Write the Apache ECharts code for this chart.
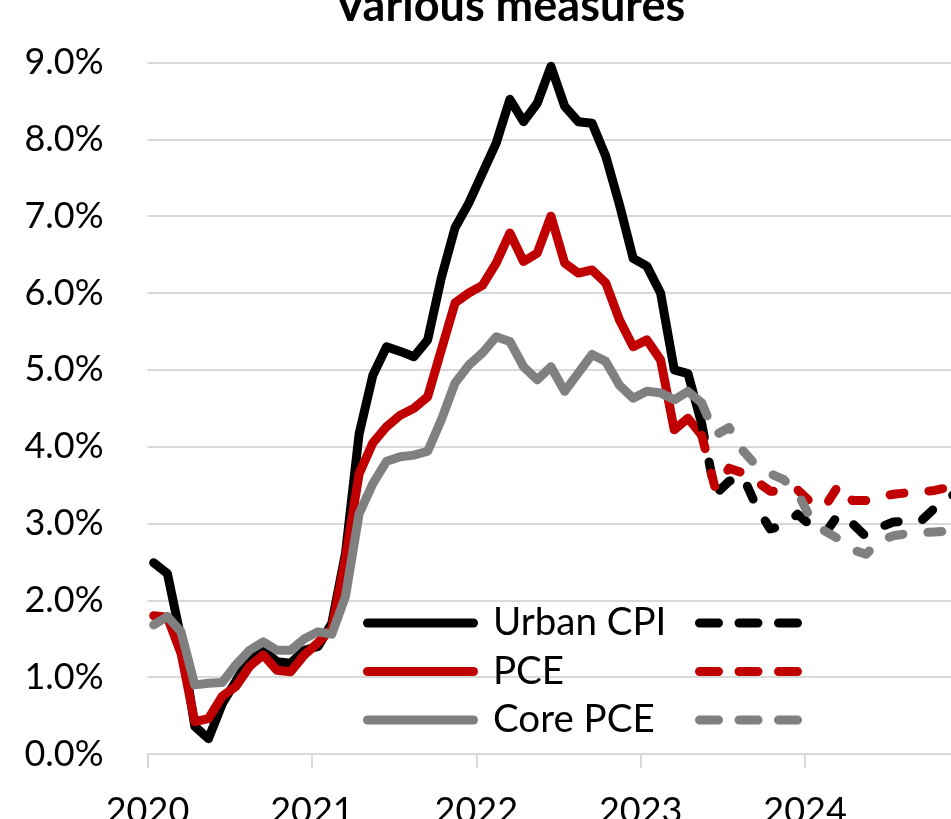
<!DOCTYPE html>
<html>
<head>
<meta charset="utf-8">
<script src="https://cdn.jsdelivr.net/npm/echarts@6/dist/echarts.min.js"></script>
<style>
  html, body { margin: 0; padding: 0; background: #fff; }
  #chart { width: 951px; height: 819px; }
</style>
</head>
<body>
<div id="chart"></div>
<script>
// ---- Data (monthly, year-over-year %) ----
const months = [
  '2020-01','2020-02','2020-03','2020-04','2020-05','2020-06','2020-07','2020-08','2020-09','2020-10','2020-11','2020-12',
  '2021-01','2021-02','2021-03','2021-04','2021-05','2021-06','2021-07','2021-08','2021-09','2021-10','2021-11','2021-12',
  '2022-01','2022-02','2022-03','2022-04','2022-05','2022-06','2022-07','2022-08','2022-09','2022-10','2022-11','2022-12',
  '2023-01','2023-02','2023-03','2023-04','2023-05','2023-06','2023-07','2023-08','2023-09','2023-10','2023-11','2023-12',
  '2024-01','2024-02','2024-03','2024-04','2024-05','2024-06','2024-07','2024-08','2024-09','2024-10','2024-11','2024-12'
];
// actual values Jan 2020 .. May 2023
const cpiActual = [2.49,2.35,1.5,0.36,0.2,0.65,0.95,1.25,1.35,1.2,1.18,1.35,
  1.4,1.7,2.61,4.17,4.93,5.3,5.24,5.17,5.39,6.2,6.85,7.17,
  7.56,7.95,8.52,8.23,8.47,8.95,8.43,8.23,8.21,7.78,7.15,6.45,
  6.35,6.0,5.0,4.95,4.3];
const pceActual = [1.8,1.78,1.31,0.42,0.46,0.75,0.88,1.14,1.29,1.09,1.07,1.29,
  1.45,1.63,2.55,3.65,4.05,4.26,4.41,4.5,4.65,5.26,5.87,6.0,
  6.1,6.39,6.78,6.41,6.52,7.0,6.39,6.26,6.3,6.13,5.65,5.3,
  5.39,5.13,4.22,4.37,4.15];
const coreActual = [1.68,1.79,1.59,0.9,0.92,0.93,1.16,1.35,1.46,1.35,1.35,1.5,
  1.59,1.56,2.05,3.13,3.52,3.81,3.87,3.89,3.94,4.35,4.83,5.06,
  5.22,5.43,5.37,5.04,4.87,5.04,4.72,4.96,5.2,5.11,4.8,4.63,
  4.72,4.7,4.61,4.72,4.57];
// projections May 2023 .. Dec 2024
const projStart = 40;
const cpiProj  = [4.3,3.38,3.55,3.62,3.22,2.93,2.97,3.12,2.97,2.87,3.12,3.0,2.83,2.95,3.02,3.03,3.03,3.2,3.33,3.45];
const pceProj  = [4.15,3.45,3.72,3.66,3.55,3.42,3.42,3.44,3.27,3.22,3.5,3.3,3.3,3.35,3.38,3.4,3.41,3.43,3.47,3.5];
const coreProj = [4.57,4.15,4.25,3.95,3.75,3.65,3.57,3.4,3.05,2.9,2.8,2.66,2.6,2.78,2.84,2.87,2.88,2.89,2.9,2.97];

const yTicks = [0,1,2,3,4,5,6,7,8,9];
const yearTicks = [0,12,24,36,48,60];   // months since Jan 2020
const firstYear = 2020;

// ---- build ----
const PLOT_POS = 0.45; // observation plotted within its month (date axis)
function toPairs(values, start) {
  return values.map((v, k) => [start + k + PLOT_POS, v, months[start + k]]);
}

const FONT = 'Lato';
const W = 9;
const dash = [14, 25];
const solidIcon = 'path://M4.5,0H110.5A4.5,4.5,0,0,1,110.5,9H4.5A4.5,4.5,0,0,1,4.5,0Z';
const dashIcon = 'path://M4.5,0H23.5A4.5,4.5,0,0,1,23.5,9H4.5A4.5,4.5,0,0,1,4.5,0Z' +
  'M44,0H63A4.5,4.5,0,0,1,63,9H44A4.5,4.5,0,0,1,44,0Z' +
  'M83.5,0H102.5A4.5,4.5,0,0,1,102.5,9H83.5A4.5,4.5,0,0,1,83.5,0Z';

const colors = { cpi: '#000000', pce: '#c00000', core: '#808080' };

function lineSeries(name, color, data, dashed) {
  return {
    name, type: 'line', data,
    showSymbol: false, symbol: 'none',
    itemStyle: { color },
    lineStyle: { color, width: W, cap: 'round', join: 'round', type: dashed ? dash : 'solid' },
    emphasis: { disabled: true },
    animation: false
  };
}

const legendText = { fontFamily: FONT, fontSize: 38.5, lineHeight: 40, color: '#000', padding: [0, 0, 0, 10] };

const option = {
  animation: false,
  graphic: [{
    type: 'text', x: 510, y: 6,
    style: { text: 'Various measures', fontFamily: FONT, fontWeight: 'bold', fontSize: 45, fill: '#000', align: 'center', verticalAlign: 'middle' }
  }],
  grid: { left: 147.5, right: 0, top: 62.5, bottom: 65, containLabel: false, outerBoundsMode: 'none' },
  xAxis: {
    type: 'value', min: 0, max: 58.65, interval: 12,
    axisLine: { show: true, lineStyle: { color: '#d9d9d9', width: 2 } },
    axisTick: { show: true, length: 14, customValues: yearTicks, lineStyle: { color: '#d9d9d9', width: 2 } },
    axisLabel: {
      customValues: yearTicks, margin: 39,
      fontFamily: FONT, fontSize: 36, color: '#000',
      formatter: v => (v % 12 === 0 ? String(firstYear + v / 12) : '')
    },
    splitLine: { show: false }
  },
  yAxis: {
    type: 'value', min: yTicks[0], max: yTicks[yTicks.length - 1], interval: 1,
    axisLine: { show: false }, axisTick: { show: false },
    axisLabel: { margin: 44, fontFamily: FONT, fontSize: 36, color: '#000', formatter: v => v.toFixed(1) + '%' },
    splitLine: { lineStyle: { color: '#d9d9d9', width: 2 } }
  },
  legend: [
    {
      orient: 'vertical', left: 363, top: 603, padding: 0, itemGap: 8.5,
      itemWidth: 115, itemHeight: 9, selectedMode: false,
      itemStyle: { borderWidth: 0 },
      textStyle: legendText,
      data: [
        { name: 'Urban CPI', icon: solidIcon },
        { name: 'PCE', icon: solidIcon },
        { name: 'Core PCE', icon: solidIcon }
      ]
    },
    {
      orient: 'vertical', left: 695, top: 603, padding: 0, itemGap: 8.5,
      itemWidth: 107, itemHeight: 9, selectedMode: false,
      itemStyle: { borderWidth: 0 },
      textStyle: legendText,
      formatter: () => ' ',
      data: [
        { name: 'Urban CPI (projected)', icon: dashIcon },
        { name: 'PCE (projected)', icon: dashIcon },
        { name: 'Core PCE (projected)', icon: dashIcon }
      ]
    }
  ],
  series: [
    lineSeries('Urban CPI', colors.cpi, toPairs(cpiActual, 0), false),
    lineSeries('PCE', colors.pce, toPairs(pceActual, 0), false),
    lineSeries('Core PCE', colors.core, toPairs(coreActual, 0), false),
    lineSeries('Urban CPI (projected)', colors.cpi, toPairs(cpiProj, projStart), true),
    lineSeries('PCE (projected)', colors.pce, toPairs(pceProj, projStart), true),
    lineSeries('Core PCE (projected)', colors.core, toPairs(coreProj, projStart), true)
  ]
};

const chart = echarts.init(document.getElementById('chart'), null, { renderer: 'canvas' });
chart.setOption(option);
</script>
</body>
</html>
